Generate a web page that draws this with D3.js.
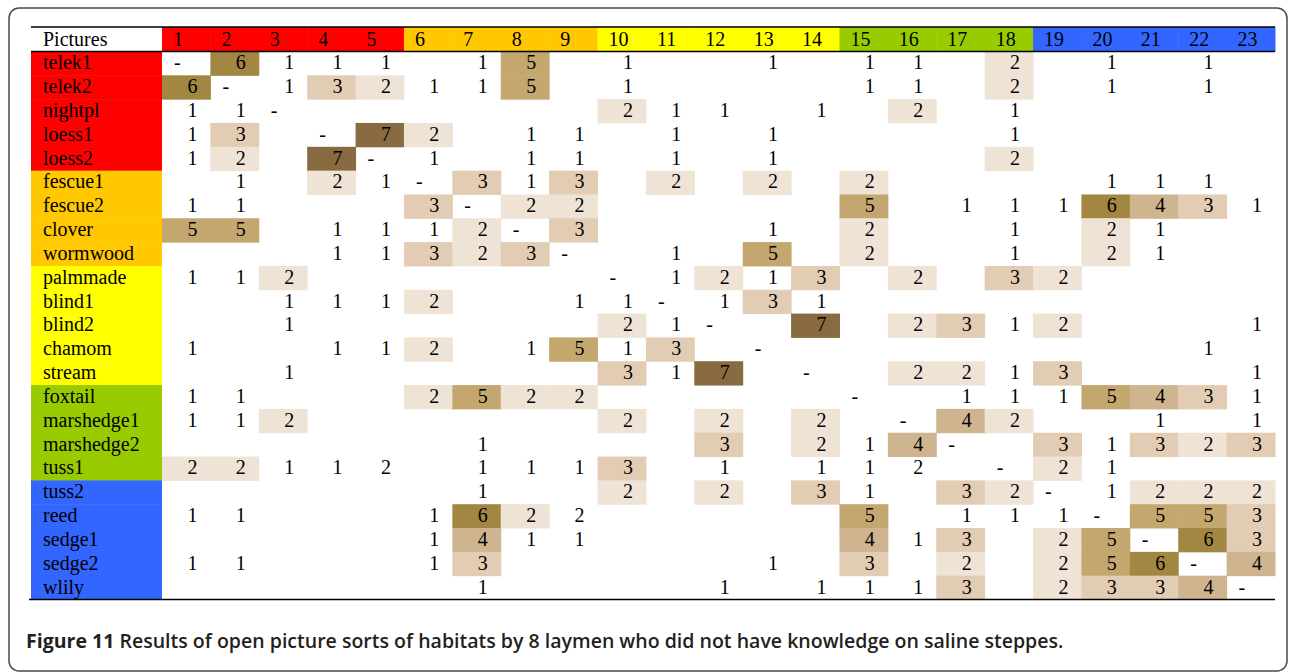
<!DOCTYPE html>
<html>
<head>
<meta charset="utf-8">
<script src="https://d3js.org/d3.v7.min.js"></script>
<style>
body { margin: 0; background: #fff; }
</style>
</head>
<body>
<svg id="svg" width="1290" height="672"></svg>
<script>
var _ = null;

// pictures (columns) and habitats (rows)
var pictures = ["1","2","3","4","5","6","7","8","9","10","11","12","13","14","15","16","17","18","19","20","21","22","23"];
var habitats = ["telek1","telek2","nightpl","loess1","loess2","fescue1","fescue2","clover","wormwood","palmmade","blind1","blind2","chamom","stream","foxtail","marshedge1","marshedge2","tuss1","tuss2","reed","sedge1","sedge2","wlily"];

// habitat groups
var groupSizes = [5, 4, 5, 4, 5];
var groupColors = ["#FF0000", "#FFC800", "#FFFF00", "#99CC00", "#3366FF"];

// times two pictures were put in the same group
var counts = [
	["-",6,1,1,1,_,1,5,_,1,_,_,1,_,1,1,_,2,_,1,_,1,_],
	[6,"-",1,3,2,1,1,5,_,1,_,_,_,_,1,1,_,2,_,1,_,1,_],
	[1,1,"-",_,_,_,_,_,_,2,1,1,_,1,_,2,_,1,_,_,_,_,_],
	[1,3,_,"-",7,2,_,1,1,_,1,_,1,_,_,_,_,1,_,_,_,_,_],
	[1,2,_,7,"-",1,_,1,1,_,1,_,1,_,_,_,_,2,_,_,_,_,_],
	[_,1,_,2,1,"-",3,1,3,_,2,_,2,_,2,_,_,_,_,1,1,1,_],
	[1,1,_,_,_,3,"-",2,2,_,_,_,_,_,5,_,1,1,1,6,4,3,1],
	[5,5,_,1,1,1,2,"-",3,_,_,_,1,_,2,_,_,1,_,2,1,_,_],
	[_,_,_,1,1,3,2,3,"-",_,1,_,5,_,2,_,_,1,_,2,1,_,_],
	[1,1,2,_,_,_,_,_,_,"-",1,2,1,3,_,2,_,3,2,_,_,_,_],
	[_,_,1,1,1,2,_,_,1,1,"-",1,3,1,_,_,_,_,_,_,_,_,_],
	[_,_,1,_,_,_,_,_,_,2,1,"-",_,7,_,2,3,1,2,_,_,_,1],
	[1,_,_,1,1,2,_,1,5,1,3,_,"-",_,_,_,_,_,_,_,_,1,_],
	[_,_,1,_,_,_,_,_,_,3,1,7,_,"-",_,2,2,1,3,_,_,_,1],
	[1,1,_,_,_,2,5,2,2,_,_,_,_,_,"-",_,1,1,1,5,4,3,1],
	[1,1,2,_,_,_,_,_,_,2,_,2,_,2,_,"-",4,2,_,_,1,_,1],
	[_,_,_,_,_,_,1,_,_,_,_,3,_,2,1,4,"-",_,3,1,3,2,3],
	[2,2,1,1,2,_,1,1,1,3,_,1,_,1,1,2,_,"-",2,1,_,_,_],
	[_,_,_,_,_,_,1,_,_,2,_,2,_,3,1,_,3,2,"-",1,2,2,2],
	[1,1,_,_,_,1,6,2,2,_,_,_,_,_,5,_,1,1,1,"-",5,5,3],
	[_,_,_,_,_,1,4,1,1,_,_,_,_,_,4,1,3,_,2,5,"-",6,3],
	[1,1,_,_,_,1,3,_,_,_,_,_,1,_,3,_,2,_,2,5,6,"-",4],
	[_,_,_,_,_,_,1,_,_,_,_,1,_,1,1,1,3,_,2,3,3,4,"-"]
];

// cells that were left without shading in the original
var plainCells = [["reed","9"], ["tuss1","5"], ["tuss1","16"]];

var shadeValues = [2, 3, 4, 5, 6, 7];
var shadeColors = ["#EEE3D5", "#E2CCB4", "#CEB48F", "#C4A76E", "#A28742", "#886B40"];

var caption = "Results of open picture sorts of habitats by 8 laymen who did not have knowledge on saline steppes.";

function draw() {
	var svg = d3.select("#svg");

	// group colour for each index
	var groupOf = [];
	groupSizes.forEach(function(n, gi) {
		for (var k = 0; k < n; k++) groupOf.push(groupColors[gi]);
	});

	var left = 31, labelRight = 162, right = 1275,
		tableTop = 27, headBottom = 51.5, bottom = 599.5;

	var x = d3.scaleBand().domain(pictures).range([labelRight, right]);
	var y = d3.scaleBand().domain(habitats).range([headBottom, bottom]);
	var shade = d3.scaleOrdinal().domain(shadeValues).range(shadeColors);

	var font = "'Liberation Serif', 'Times New Roman', serif";

	// frame round the figure
	svg.append("rect")
		.attr("x", 9).attr("y", 8)
		.attr("width", 1278).attr("height", 663)
		.attr("rx", 10)
		.attr("fill", "none")
		.attr("stroke", "#4a4a4a")
		.attr("stroke-width", 1.5);

	// header
	svg.append("text")
		.attr("x", left + 12)
		.attr("y", headBottom - 6)
		.style("font", "20px " + font)
		.text("Pictures");

	var head = svg.selectAll(".head")
		.data(pictures)
		.enter().append("g")
		.attr("class", "head");

	head.append("rect")
		.attr("x", function(d) { return x(d); })
		.attr("y", tableTop)
		.attr("width", x.bandwidth() + 0.5)
		.attr("height", headBottom - tableTop)
		.attr("fill", function(d, i) { return groupOf[i]; });

	head.append("text")
		.attr("x", function(d) { return x(d) + 11; })
		.attr("y", headBottom - 6)
		.style("font", "20px " + font)
		.text(function(d) { return d; });

	// row labels
	var label = svg.selectAll(".label")
		.data(habitats)
		.enter().append("g")
		.attr("class", "label");

	label.append("rect")
		.attr("x", left)
		.attr("y", function(d) { return y(d); })
		.attr("width", labelRight - left)
		.attr("height", y.bandwidth() + 0.5)
		.attr("fill", function(d, i) { return groupOf[i]; });

	label.append("text")
		.attr("x", left + 12)
		.attr("y", function(d) { return y(d) + y.bandwidth() - 6; })
		.style("font", "20px " + font)
		.text(function(d) { return d; });

	// cells
	var cells = [];
	counts.forEach(function(row, ri) {
		row.forEach(function(v, ci) {
			if (v !== null) cells.push({row: habitats[ri], col: pictures[ci], v: v});
		});
	});

	function isPlain(d) {
		return plainCells.some(function(p) { return p[0] === d.row && p[1] === d.col; });
	}

	svg.selectAll(".shade")
		.data(cells.filter(function(d) { return typeof d.v === "number" && d.v >= 2 && !isPlain(d); }))
		.enter().append("rect")
		.attr("class", "shade")
		.attr("x", function(d) { return x(d.col); })
		.attr("y", function(d) { return y(d.row); })
		.attr("width", x.bandwidth() + 0.5)
		.attr("height", y.bandwidth() + 0.5)
		.attr("fill", function(d) { return shade(d.v); });

	svg.selectAll(".val")
		.data(cells)
		.enter().append("text")
		.attr("class", "val")
		.attr("x", function(d) { return d.v === "-" ? x(d.col) + 12 : x(d.col) + x.bandwidth() - 13; })
		.attr("y", function(d) { return y(d.row) + y.bandwidth() - 6; })
		.attr("text-anchor", function(d) { return d.v === "-" ? "start" : "end"; })
		.style("font", "20px " + font)
		.text(function(d) { return d.v; });

	// rules
	svg.append("line").attr("x1", left).attr("x2", right).attr("y1", tableTop).attr("y2", tableTop)
		.attr("stroke", "#000").attr("stroke-width", 1.5);
	svg.append("line").attr("x1", left).attr("x2", right).attr("y1", headBottom).attr("y2", headBottom)
		.attr("stroke", "#000").attr("stroke-width", 1.5);
	svg.append("line").attr("x1", 29).attr("x2", right).attr("y1", bottom).attr("y2", bottom)
		.attr("stroke", "#000").attr("stroke-width", 1.5);

	// caption
	var cap = svg.append("text")
		.attr("x", 26)
		.attr("y", 648)
		.attr("fill", "#231F20")
		.style("font-family", "'Open Sans', 'Noto Sans', sans-serif")
		.style("font-size", "17px");
	cap.append("tspan").style("font-weight", 700).text("Figure 11 ");
	cap.append("tspan").style("font-weight", 600).text(caption);

	// fit caption to the width it has in the figure
	var w = cap.node().getComputedTextLength();
	cap.style("font-size", (17 * 1038 / w) + "px");
}

draw();
</script>
</body>
</html>
